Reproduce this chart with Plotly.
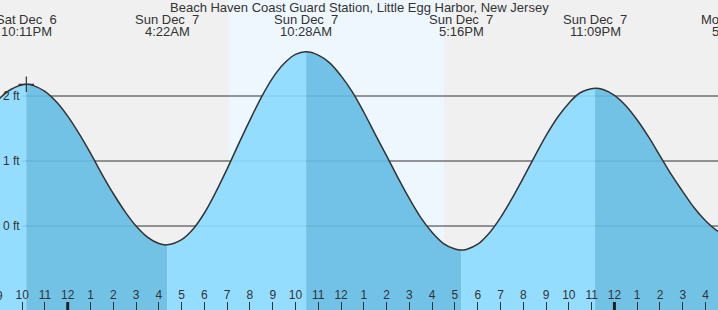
import pandas as pd
import plotly.graph_objects as go

# ---------------- data ----------------
TITLE = "Beach Haven Coast Guard Station, Little Egg Harbor, New Jersey"

# tide extremes (time, height ft); first and last lie outside the visible window
extreme_times = ["2025-12-06 16:05", "2025-12-06 22:11", "2025-12-07 04:22",
                 "2025-12-07 10:28", "2025-12-07 17:16", "2025-12-07 23:09",
                 "2025-12-08 05:15"]
extreme_heights = [-0.25, 2.18, -0.29, 2.68, -0.37, 2.12, -0.17]
extreme_date_labels = ["Sat Dec \u00a06", "Sat Dec \u00a06", "Sun Dec \u00a07", "Sun Dec \u00a07",
                       "Sun Dec \u00a07", "Sun Dec \u00a07", "Mon Dec \u00a08"]
extreme_time_labels = ["4:05PM", "10:11PM", "4:22AM", "10:28AM", "5:16PM", "11:09PM", "5:15AM"]

# half-hourly heights (ft), 2025-12-06 17:00 ... 2025-12-08 05:00
reading_start = "2025-12-06 17:00"
reading_heights = [
    -0.12, 0.06, 0.30, 0.58, 0.88, 1.19, 1.49, 1.75, 1.96, 2.10, 2.17, 2.16,   # 17:00-22:30
    2.07, 1.91,                                                                 # 23:00-23:30
    1.69, 1.42, 1.12, 0.80, 0.50, 0.23, 0.00, -0.17, -0.27, -0.28, -0.21, -0.05,  # 0:00-5:30
    0.20, 0.52, 0.88, 1.26, 1.63, 1.98, 2.28, 2.50, 2.64, 2.68, 2.63, 2.51,     # 6:00-11:30
    2.31, 2.06, 1.75, 1.41, 1.08, 0.74, 0.42, 0.13, -0.10, -0.27, -0.355, -0.36,  # 12:00-17:30
    -0.28, -0.11, 0.13, 0.42, 0.74, 1.07, 1.39, 1.67, 1.89, 2.05, 2.12, 2.10,   # 18:00-23:30
    2.01, 1.85, 1.63, 1.37, 1.08, 0.79, 0.53, 0.28, 0.08, -0.07, -0.15,         # 0:00-5:00 Dec 8
]

sunrise = "2025-12-07 07:05"
sunset = "2025-12-07 16:31"

# ---------------- helpers ----------------
ref = pd.Timestamp("2025-12-07 00:00")


def hrs(ts):
    return (pd.Timestamp(ts) - ref) / pd.Timedelta(hours=1)


ext_t = [hrs(t) for t in extreme_times]
read_t = [hrs(t) for t in pd.date_range(reading_start, periods=len(reading_heights), freq="30min")]

# readings very close to an extreme are dropped so the spline stays smooth
read_pts = [(t, h) for t, h in zip(read_t, reading_heights)
            if min(abs(t - e) for e in ext_t) > 0.2]
pts = sorted(list(zip(ext_t, extreme_heights)) + read_pts)
all_x = [p[0] for p in pts]
all_y = [p[1] for p in pts]

x0 = hrs(pd.Timestamp("2025-12-06 21:00") + pd.Timedelta(minutes=1.7))
x1 = hrs(pd.Timestamp("2025-12-08 04:32") + pd.Timedelta(seconds=48))
y_lo, y_hi = -1.292, 3.477

LIGHT = "rgba(139,218,255,0.9)"
DARK = "rgba(100,188,228,0.9)"
TXT = "#333333"
FONT = "Liberation Sans, Arial, sans-serif"

fig = go.Figure()

# filled segments between consecutive extremes
for i in range(len(ext_t) - 1):
    ta, tb = ext_t[i], ext_t[i + 1]
    sx = [x for x in all_x if ta <= x <= tb]
    sy = [y for x, y in zip(all_x, all_y) if ta <= x <= tb]
    rising = extreme_heights[i + 1] > extreme_heights[i]
    fig.add_trace(go.Scatter(x=[ta, tb], y=[y_lo - 2, y_lo - 2], mode="lines",
                             line=dict(width=0), hoverinfo="skip", showlegend=False))
    fig.add_trace(go.Scatter(x=sx, y=sy, mode="lines", line=dict(width=0, shape="spline"),
                             fill="tonexty", fillcolor=LIGHT if rising else DARK,
                             hoverinfo="skip", showlegend=False))

# outline
fig.add_trace(go.Scatter(x=all_x, y=all_y, mode="lines",
                         line=dict(color="#333333", width=1.5, shape="spline"),
                         hoverinfo="skip", showlegend=False))
# current marker
fig.add_trace(go.Scatter(x=[ext_t[1]], y=[extreme_heights[1]], mode="markers",
                         marker=dict(symbol="cross-thin", size=11,
                                     line=dict(color="#333333", width=1.2)),
                         hoverinfo="skip", showlegend=False))

shapes = [dict(type="rect", xref="x", yref="paper", x0=hrs(sunrise), x1=hrs(sunset),
               y0=0, y1=1, fillcolor="#eef6fe", line=dict(width=0), layer="below")]
for lvl in [0, 1, 2]:
    shapes.append(dict(type="line", xref="paper", yref="y", x0=22 / 718, x1=1, y0=lvl, y1=lvl,
                       line=dict(color="#333333", width=1), layer="below"))
for mid in ["2025-12-07 00:00", "2025-12-08 00:00"]:
    shapes.append(dict(type="line", xref="x", yref="paper", x0=hrs(mid), x1=hrs(mid),
                       y0=0, y1=8 / 310, line=dict(color="#222222", width=3), layer="above"))

# hour ticks
tick_times = pd.date_range("2025-12-06 21:00", "2025-12-08 04:00", freq="h")
tickvals = [hrs(t) for t in tick_times]
ticktext = [str((t.hour % 12) or 12) for t in tick_times]

annotations = [dict(text=TITLE, xref="paper", yref="paper", x=0.5, y=1 - 7.5 / 310,
                    xanchor="center", yanchor="middle", showarrow=False,
                    font=dict(size=13, color=TXT, family=FONT))]
# tick label that is only partly inside the window on the left
for tv, tt in zip(tickvals, ticktext):
    if tv < x0:
        annotations.append(dict(text=tt, xref="paper", yref="paper",
                                x=(tv - x0) / (x1 - x0), y=1 - 295.5 / 310,
                                xanchor="center", yanchor="middle", showarrow=False,
                                font=dict(size=12, color=TXT, family=FONT)))
for t, dl, tl in zip(ext_t, extreme_date_labels, extreme_time_labels):
    px = (t - x0) / (x1 - x0)
    if px < -0.2 or px > 1.2:
        continue
    annotations.append(dict(text=dl, xref="paper", yref="paper", x=px, y=1 - 19.5 / 310,
                            xanchor="center", yanchor="middle", showarrow=False,
                            font=dict(size=13, color=TXT, family=FONT)))
    annotations.append(dict(text=tl, xref="paper", yref="paper", x=px, y=1 - 31.5 / 310,
                            xanchor="center", yanchor="middle", showarrow=False,
                            font=dict(size=13, color=TXT, family=FONT)))

fig.update_layout(
    width=718, height=310, margin=dict(l=0, r=0, t=0, b=0),
    paper_bgcolor="#f0f0f0", plot_bgcolor="#f0f0f0",
    shapes=shapes, annotations=annotations, showlegend=False,
    xaxis=dict(range=[x0, x1], tickvals=tickvals, ticktext=ticktext,
               ticks="inside", ticklen=8, tickwidth=1, tickcolor="#333333",
               ticklabelposition="inside", showgrid=False, zeroline=False, showline=False,
               tickfont=dict(size=12, color=TXT, family=FONT), fixedrange=True),
    yaxis=dict(range=[y_lo, y_hi], tickvals=[0, 1, 2], ticktext=["0 ft", "1 ft", "2 ft"],
               ticks="", ticklabelposition="inside", showgrid=False, zeroline=False,
               showline=False, tickfont=dict(size=12, color=TXT, family=FONT), fixedrange=True),
)

fig.write_html("out.html")
